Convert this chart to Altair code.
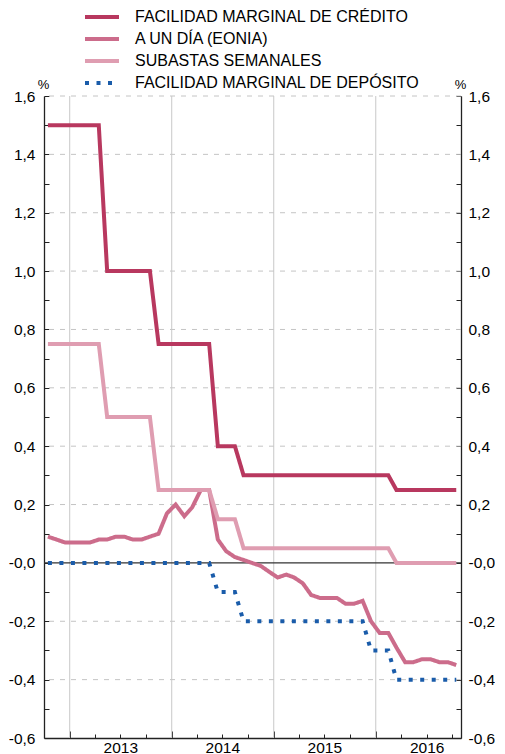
import altair as alt
import pandas as pd

FONT = "Liberation Sans"

SERIES = [
    "FACILIDAD MARGINAL DE CRÉDITO",
    "A UN DÍA (EONIA)",
    "SUBASTAS SEMANALES",
    "FACILIDAD MARGINAL DE DEPÓSITO",
]
COLORS = ["#B8385F", "#CC6C8B", "#DF9DB1", "#1A5CAA"]
DASHES = [[1, 0], [1, 0], [1, 0], [4, 7.5]]

# Monthly observations, Oct 2012 - Oct 2016 (plotted mid-month)
MONTHS = [f"{y}-{m:02d}-15" for y in range(2012, 2017) for m in range(1, 13)
          if (y, m) >= (2012, 10) and (y, m) <= (2016, 10)]

CREDITO = ([1.50] * 7 + [1.00] * 6 + [0.75] * 7 + [0.40] * 3 + [0.30] * 18 + [0.25] * 8)
EONIA = [
    0.09, 0.08, 0.07,
    0.07, 0.07, 0.07, 0.08, 0.08, 0.09, 0.09, 0.08, 0.08, 0.09, 0.10, 0.17,
    0.20, 0.16, 0.19, 0.25, 0.25, 0.08, 0.04, 0.02, 0.01, 0.00, -0.01, -0.03,
    -0.05, -0.04, -0.05, -0.07, -0.11, -0.12, -0.12, -0.12, -0.14, -0.14, -0.13, -0.20,
    -0.24, -0.24, -0.29, -0.34, -0.34, -0.33, -0.33, -0.34, -0.34, -0.35,
]
SUBASTAS = ([0.75] * 7 + [0.50] * 6 + [0.25] * 7 + [0.15] * 3 + [0.05] * 18 + [0.00] * 8)
DEPOSITO = ([0.00] * 20 + [-0.10] * 3 + [-0.20] * 15 + [-0.30] * 3 + [-0.40] * 8)

YEAR_STARTS = ["2013-01-01", "2014-01-01", "2015-01-01", "2016-01-01"]
YEAR_MIDS = ["2013-07-01", "2014-07-01", "2015-07-01", "2016-07-01"]
QUARTERS = [f"{y}-{m:02d}-01" for y in range(2013, 2017) for m in (4, 7, 10)]
X_DOMAIN = ["2012-10-01", "2016-11-01"]

Y_LABELS = [round(-0.6 + 0.2 * i, 1) for i in range(12)]
Y_TICKS = [round(-0.6 + 0.1 * i, 1) for i in range(23)]
Y_GRID = [v for v in Y_LABELS if v not in (-0.6, 0.0)]


def ms(s):
    return int(pd.Timestamp(s, tz="UTC").timestamp() * 1000)


rows = []
for name, vals in zip(SERIES, [CREDITO, EONIA, SUBASTAS, DEPOSITO]):
    for d, v in zip(MONTHS, vals):
        rows.append({"date": d, "value": v, "series": name})
df = pd.DataFrame(rows)

W, H = 417, 642
xscale = alt.Scale(type="utc", domain=[ms(s) for s in X_DOMAIN], nice=False)
yscale = alt.Scale(domain=[-0.6, 1.6], nice=False, zero=False)

LAB = "(datum.value < 0 || datum.value == 0 ? '-' : '') + replace(format(abs(datum.value), '.1f'), '.', ',')"
LAB_R = "(datum.value < 0 || datum.value == 0 ? '-' : '\u00a0') + replace(format(abs(datum.value), '.1f'), '.', ',')"

hgrid = alt.Chart(pd.DataFrame({"v": Y_GRID})).mark_rule(
    color="#c4c4c4", strokeDash=[5, 6], strokeWidth=1
).encode(
    y=alt.Y("v:Q", scale=yscale, axis=alt.Axis(
        orient="left", values=Y_LABELS, labelExpr=LAB, ticks=False, grid=False,
        domain=True, labelPadding=9, title="%", titleAngle=0, titleX=-1, titleY=-5,
        titleAlign="center", titleBaseline="bottom", titleFontSize=13,
        titleFontWeight="normal", titleColor="#000"))
)

vgrid = alt.Chart(pd.DataFrame({"d": YEAR_STARTS})).mark_rule(
    color="#c8c8c8", strokeWidth=1
).encode(
    x=alt.X("d:T", scale=xscale, axis=alt.Axis(
        orient="bottom", values=[ms(s) for s in YEAR_MIDS],
        labelExpr="utcFormat(datum.value, '%Y')", ticks=False, grid=False,
        domain=True, labelPadding=2, title=None))
)

zero = alt.Chart(pd.DataFrame({"v": [0.0]})).mark_rule(
    color="#333333", strokeWidth=1.3
).encode(
    y=alt.Y("v:Q", scale=yscale, axis=alt.Axis(
        orient="right", values=Y_LABELS, labelExpr=LAB_R, ticks=False, grid=False,
        domain=True, labelPadding=7, labelAlign="left", title="%", titleAngle=0,
        titleX=-1, titleY=-5, titleAlign="center", titleBaseline="bottom",
        titleFontSize=13, titleFontWeight="normal", titleColor="#000"))
)

tick_df = pd.DataFrame({"v": Y_TICKS})
ytick_l = alt.Chart(tick_df).mark_rule(opacity=0).encode(
    y=alt.Y("v:Q", scale=yscale, axis=alt.Axis(
        orient="right", offset=-W, values=Y_TICKS, labels=False, domain=False,
        grid=False, tickSize=5, tickColor="#222", title=None))
)
ytick_r = alt.Chart(tick_df).mark_rule(opacity=0).encode(
    y=alt.Y("v:Q", scale=yscale, axis=alt.Axis(
        orient="left", offset=-W, values=Y_TICKS, labels=False, domain=False,
        grid=False, tickSize=5, tickColor="#222", title=None))
)
xtick_q = alt.Chart(pd.DataFrame({"d": QUARTERS})).mark_rule(opacity=0).encode(
    x=alt.X("d:T", scale=xscale, axis=alt.Axis(
        orient="top", offset=-H, values=[ms(s) for s in QUARTERS], labels=False,
        domain=False, grid=False, tickSize=4, tickColor="#222", title=None))
)
xtick_y = alt.Chart(pd.DataFrame({"d": YEAR_STARTS})).mark_rule(opacity=0).encode(
    x=alt.X("d:T", scale=xscale, axis=alt.Axis(
        orient="top", offset=-H, values=[ms(s) for s in YEAR_STARTS], labels=False,
        domain=False, grid=False, tickSize=7, tickColor="#222", title=None))
)

legend = alt.Legend(
    title=None, orient="none", legendX=39, legendY=-89, symbolType="stroke",
    symbolSize=1156, symbolStrokeWidth=4, labelFontSize=16, labelFont=FONT,
    labelColor="#000", labelOffset=14, rowPadding=2, clipHeight=20, labelLimit=400,
)

lines = alt.Chart(df).mark_line(strokeWidth=4, strokeCap="butt").encode(
    x=alt.X("date:T", scale=xscale, axis=None),
    y=alt.Y("value:Q", scale=yscale, axis=None),
    color=alt.Color("series:N", scale=alt.Scale(domain=SERIES, range=COLORS), legend=legend),
    strokeDash=alt.StrokeDash("series:N", scale=alt.Scale(domain=SERIES, range=DASHES), legend=legend),
)

chart = alt.layer(
    hgrid, vgrid, zero, ytick_l, ytick_r, xtick_q, xtick_y, lines
).resolve_axis(
    x="independent", y="independent"
).properties(
    width=W, height=H,
    autosize=alt.AutoSizeParams(type="none"),
    padding={"left": 36, "top": 88, "right": 34, "bottom": 16},
).configure(
    font=FONT
).configure_axis(
    labelFont=FONT, labelFontSize=15.5, labelColor="#000",
    domainColor="#222", domainWidth=1.3,
).configure_view(stroke=None)

chart.save("out.html", embed_options={"renderer": "svg", "actions": False})
